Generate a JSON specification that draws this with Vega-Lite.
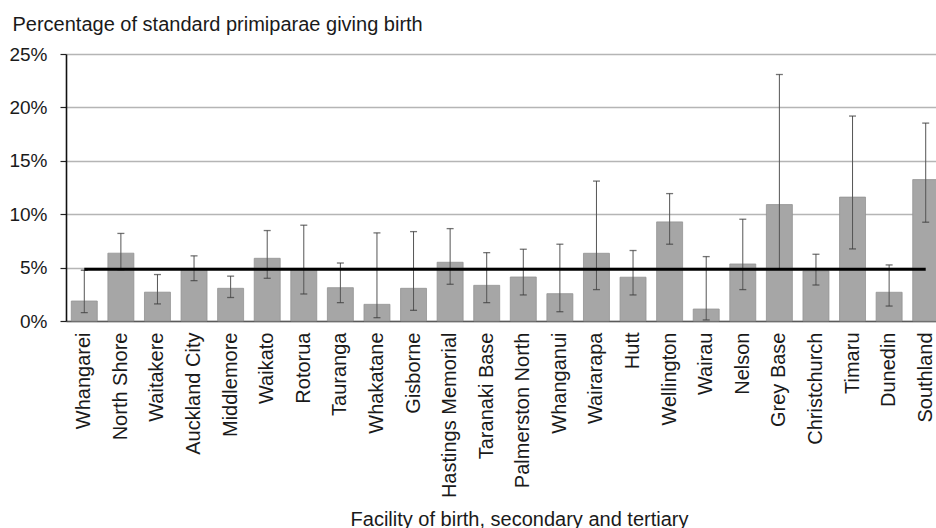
{
  "$schema": "https://vega.github.io/schema/vega-lite/v6.json",
  "autosize": "none",
  "width": 878,
  "height": 267,
  "padding": {"left": 66, "top": 54, "right": -8, "bottom": 207},
  "background": "white",
  "config": {
    "view": {"stroke": null},
    "font": "Liberation Sans",
    "axis": {"labelFont": "Liberation Sans", "titleFont": "Liberation Sans", "labelColor": "#1a1a1a", "titleColor": "#1a1a1a", "titleFontWeight": "normal"}
  },
  "data": {
    "values": [
      {"facility": "Whangarei", "rate": 1.87, "lo": 0.78, "hi": 4.75, "mean": 4.85},
      {"facility": "North Shore", "rate": 6.35, "lo": 4.8, "hi": 8.2, "mean": 4.85},
      {"facility": "Waitakere", "rate": 2.7, "lo": 1.6, "hi": 4.35, "mean": 4.85},
      {"facility": "Auckland City", "rate": 4.85, "lo": 3.78, "hi": 6.1, "mean": 4.85},
      {"facility": "Middlemore", "rate": 3.06, "lo": 2.2, "hi": 4.2, "mean": 4.85},
      {"facility": "Waikato", "rate": 5.87, "lo": 4.0, "hi": 8.47, "mean": 4.85},
      {"facility": "Rotorua", "rate": 4.82, "lo": 2.53, "hi": 8.97, "mean": 4.85},
      {"facility": "Tauranga", "rate": 3.12, "lo": 1.72, "hi": 5.43, "mean": 4.85},
      {"facility": "Whakatane", "rate": 1.56, "lo": 0.31, "hi": 8.25, "mean": 4.85},
      {"facility": "Gisborne", "rate": 3.06, "lo": 1.0, "hi": 8.37, "mean": 4.85},
      {"facility": "Hastings Memorial", "rate": 5.5, "lo": 3.44, "hi": 8.65, "mean": 4.85},
      {"facility": "Taranaki Base", "rate": 3.34, "lo": 1.72, "hi": 6.4, "mean": 4.85},
      {"facility": "Palmerston North", "rate": 4.12, "lo": 2.44, "hi": 6.72, "mean": 4.85},
      {"facility": "Whanganui", "rate": 2.56, "lo": 0.87, "hi": 7.19, "mean": 4.85},
      {"facility": "Wairarapa", "rate": 6.34, "lo": 2.94, "hi": 13.1, "mean": 4.85},
      {"facility": "Hutt", "rate": 4.1, "lo": 2.44, "hi": 6.6, "mean": 4.85},
      {"facility": "Wellington", "rate": 9.28, "lo": 7.19, "hi": 11.93, "mean": 4.85},
      {"facility": "Wairau", "rate": 1.12, "lo": 0.1, "hi": 6.03, "mean": 4.85},
      {"facility": "Nelson", "rate": 5.34, "lo": 2.94, "hi": 9.53, "mean": 4.85},
      {"facility": "Grey Base", "rate": 10.9, "lo": 4.84, "hi": 23.08, "mean": 4.85},
      {"facility": "Christchurch", "rate": 4.69, "lo": 3.37, "hi": 6.25, "mean": 4.85},
      {"facility": "Timaru", "rate": 11.6, "lo": 6.75, "hi": 19.19, "mean": 4.85},
      {"facility": "Dunedin", "rate": 2.69, "lo": 1.4, "hi": 5.25, "mean": 4.85},
      {"facility": "Southland", "rate": 13.24, "lo": 9.25, "hi": 18.53, "mean": 4.85}
    ]
  },
  "encoding": {
    "x": {
      "field": "facility",
      "type": "nominal",
      "sort": null,
      "scale": {"paddingInner": 0.29, "paddingOuter": 0.145},
      "axis": {
        "title": "Facility of birth, secondary and tertiary",
        "titleFontSize": 20,
        "titleX": 453,
        "titleY": 204,
        "titleBaseline": "alphabetic",
        "titleAnchor": "middle",
        "labelAngle": 270,
        "labelFontSize": 20,
        "labelPadding": 11,
        "ticks": false,
        "tickSize": 0,
        "domainColor": "#5a5a5a",
        "domainWidth": 1.5,
        "grid": false,
        "labelOverlap": false
      }
    }
  },
  "layer": [
    {
      "mark": {"type": "bar", "fill": "#a6a6a6", "stroke": "#939393", "strokeWidth": 0.8},
      "encoding": {
        "y": {
          "field": "rate",
          "type": "quantitative",
          "scale": {"domain": [0, 25], "nice": false, "zero": true},
          "axis": {
            "title": "Percentage of standard primiparae giving birth",
            "titleFontSize": 20,
            "titleAngle": 0,
            "titleAlign": "left",
            "titleBaseline": "alphabetic",
            "titleX": -54,
            "titleY": -24,
            "values": [0, 5, 10, 15, 20, 25],
            "labelExpr": "datum.value + '%'",
            "labelFontSize": 19,
            "labelPadding": 13,
            "tickSize": 6,
            "tickColor": "#222222",
            "tickWidth": 1.2,
            "domainColor": "#111111",
            "domainWidth": 1.6,
            "gridColor": "#b5b5b5",
            "gridWidth": 1.5
          }
        }
      }
    },
    {
      "mark": {"type": "rule", "color": "#555555", "strokeWidth": 1},
      "encoding": {
        "y": {"field": "lo", "type": "quantitative"},
        "y2": {"field": "hi"}
      }
    },
    {
      "mark": {"type": "tick", "color": "#3a3a3a", "size": 7, "thickness": 1.3},
      "encoding": {"y": {"field": "lo", "type": "quantitative"}}
    },
    {
      "mark": {"type": "tick", "color": "#3a3a3a", "size": 7, "thickness": 1.3},
      "encoding": {"y": {"field": "hi", "type": "quantitative"}}
    },
    {
      "mark": {"type": "line", "color": "#000000", "strokeWidth": 3},
      "encoding": {"y": {"field": "mean", "type": "quantitative"}}
    }
  ]
}
